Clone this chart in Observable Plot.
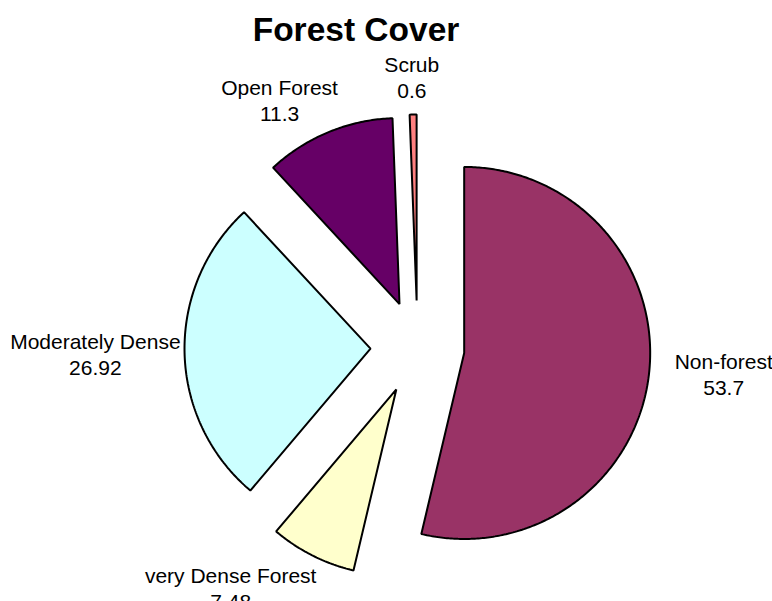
<!DOCTYPE html>
<html><head><meta charset="utf-8">
<script src="https://cdn.jsdelivr.net/npm/d3@7"></script>
<script src="https://cdn.jsdelivr.net/npm/@observablehq/plot@0.6"></script>
<style>
body{margin:0;background:#fff;font-family:Arial,"Liberation Sans",sans-serif}
#wrap{position:relative;width:772px;height:601px;overflow:hidden}
#title{position:absolute;left:0;top:13px;width:712px;text-align:center;font-weight:bold;font-size:33.5px;line-height:33px;color:#000}
#chart svg{display:block}
</style></head><body>
<div id="wrap"><div id="chart"></div><div id="title">Forest Cover</div></div>
<script>
const categories = ["Non-forest", "very Dense Forest", "Moderately Dense", "Open Forest", "Scrub"];
const values = [53.7, 7.48, 26.92, 11.3, 0.6];
const colors = ["#993366", "#FFFFCC", "#CCFFFF", "#660066", "#FF8080"];

const W = 772, H = 601, cx = 417, cy = 347, radius = 186, explode = 47;
const fontSize = 21, lineH = 26;
const ctx = document.createElement("canvas").getContext("2d");
ctx.font = fontSize + "px Arial";

const arcs = d3.pie().sort(null)(values);
const slices = [];
const labels = [];
const clamp = v => Math.max(-1, Math.min(1, v));
arcs.forEach((a, i) => {
  const mid = (a.startAngle + a.endAngle) / 2;
  const dx = Math.sin(mid), dy = -Math.cos(mid);
  const ox = explode * dx, oy = explode * dy;
  slices.push({k: i, x: ox, y: oy});
  const n = Math.max(2, Math.ceil((a.endAngle - a.startAngle) / 0.01));
  for (let j = 0; j <= n; j++) {
    const t = a.startAngle + (a.endAngle - a.startAngle) * j / n;
    slices.push({k: i, x: ox + radius * Math.sin(t), y: oy - radius * Math.cos(t)});
  }
  const txt = categories[i] + "\n" + values[i];
  const w = Math.max(ctx.measureText(categories[i]).width, ctx.measureText(String(values[i])).width);
  const h = lineH * 2 - 6;
  const gap = 15 + 11 * dx;
  const R = explode + radius + gap;
  labels.push({
    text: txt,
    x: R * dx + (w / 2) * clamp(2 * dx),
    y: R * dy * (1 - 0.3 * Math.max(0, dx)) + (h / 2) * clamp(2 * dy)
  });
});

const chart = Plot.plot({
  width: W, height: H, margin: 0,
  x: {domain: [-cx, W - cx], range: [0, W], axis: null},
  y: {domain: [-cy, H - cy], range: [0, H], axis: null},
  marks: [
    Plot.line(slices, {x: "x", y: "y", z: "k", curve: "linear-closed",
      fill: d => colors[d.k], stroke: "black", strokeWidth: 2, strokeLinejoin: "miter"}),
    Plot.text(labels, {x: "x", y: "y", text: "text", fontSize: fontSize, lineHeight: lineH / fontSize,
      fill: "black", fontFamily: "Arial, 'Liberation Sans', sans-serif"})
  ]
});
document.getElementById("chart").appendChild(chart);
</script>
</body></html>
